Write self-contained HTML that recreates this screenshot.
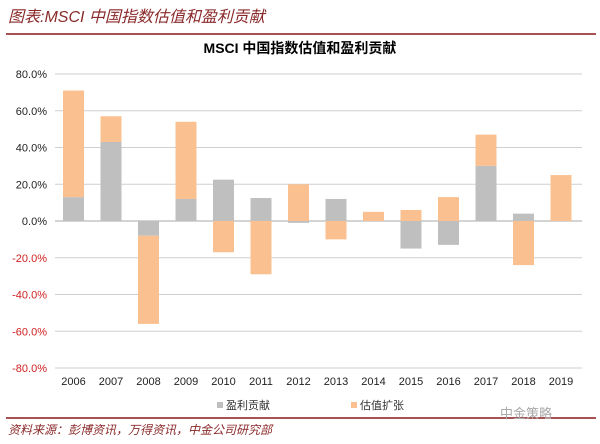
<!DOCTYPE html>
<html><head><meta charset="utf-8"><style>
body{margin:0;background:#fff;}
svg text{font-family:"Liberation Sans","Noto Sans CJK SC",sans-serif;}
</style></head><body>
<svg width="600" height="439" xmlns="http://www.w3.org/2000/svg">
<rect width="600" height="439" fill="#fff"/>
<text x="8" y="22" font-size="16" font-style="italic" fill="#8b2a2a" font-family="'Liberation Serif','Noto Serif CJK SC',serif">图表:MSCI 中国指数估值和盈利贡献</text>
<line x1="6" y1="34" x2="596" y2="34" stroke="#8b1a1a" stroke-width="1.5"/>
<text x="300" y="53" font-size="14" font-weight="bold" text-anchor="middle" fill="#000">MSCI 中国指数估值和盈利贡献</text>
<g id="grid" stroke="#c8c8c8" stroke-width="1"></g>
<g id="bars"></g>
<g id="labels" font-size="11"></g>
<rect x="217" y="402" width="6" height="6" fill="#bfbfbf"/>
<text x="226" y="409" font-size="11" fill="#333">盈利贡献</text>
<rect x="351" y="402" width="6" height="6" fill="#fac090"/>
<text x="360" y="409" font-size="11" fill="#333">估值扩张</text>
<line x1="6" y1="418" x2="596" y2="418" stroke="#8b1a1a" stroke-width="1.5"/>
<text x="500" y="418" font-size="13" fill="#aaa">中金策略</text>
<text x="8" y="434" font-size="12" font-style="italic" fill="#8b2a2a" font-family="'Liberation Serif','Noto Serif CJK SC',serif">资料来源：彭博资讯，万得资讯，中金公司研究部</text>
</svg>
<script>
const ns="http://www.w3.org/2000/svg";
const y=v=>221-v*1.8375;
const g=document.getElementById('grid'),b=document.getElementById('bars'),l=document.getElementById('labels');
function el(p,t,a,txt){const e=document.createElementNS(ns,t);for(const k in a)e.setAttribute(k,a[k]);if(txt)e.textContent=txt;p.appendChild(e);}
for(let v=80;v>=-80;v-=20){el(g,'line',{x1:55,x2:582,y1:y(v),y2:y(v),stroke:v==0?'#aaa':'#cfcfcf'});
el(l,'text',{x:47,y:y(v)+4,'text-anchor':'end',fill:v<0?'#d02020':'#222'},v.toFixed(1)+'%');}
const d=[[13,58],[43,14],[-8,-48],[12,42],[22.5,-17],[12.5,-29],[-1,20],[12,-10],[0,5],[-15,6],[-13,13],[30,17],[4,-24],[0,25]];
d.forEach((p,i)=>{const cx=73.5+i*37.5,x=cx-10.5;const[gv,ov]=p;
el(b,'rect',{x:x,width:21,y:y(Math.max(gv,0)),height:Math.abs(gv)*1.8375,fill:'#bfbfbf'});
let base=(gv>0&&ov>0)||(gv<0&&ov<0)?gv:0;
let a=base,c=base+ov;
el(b,'rect',{x:x,width:21,y:y(Math.max(a,c)),height:Math.abs(ov)*1.8375,fill:'#fac090'});
el(l,'text',{x:cx,y:385,'text-anchor':'middle',fill:'#222'},String(2006+i));});
</script>
</body></html>
